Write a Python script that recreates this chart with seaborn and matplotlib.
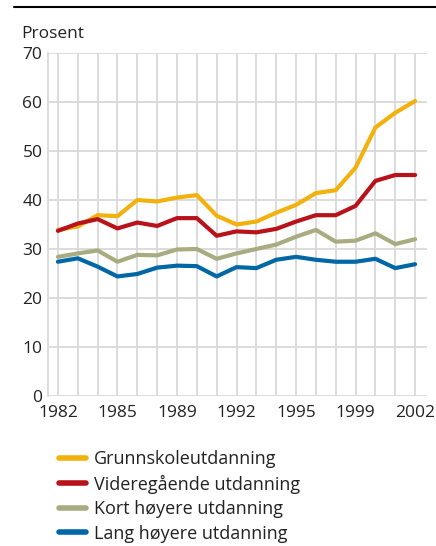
import matplotlib
matplotlib.use("Agg")
import pandas as pd
import matplotlib.pyplot as plt
from matplotlib.lines import Line2D
import seaborn as sns

# years with data (not every year is present, so plotted by position)
years = [1982, 1983, 1984, 1985, 1986, 1988, 1989, 1990, 1991, 1992,
         1993, 1994, 1995, 1996, 1997, 1999, 2000, 2001, 2002]
tick_years = ["1982", "1985", "1989", "1992", "1995", "1999", "2002"]

grunnskole = [33.9, 34.6, 36.9, 36.7, 40.0, 39.7, 40.5, 41.0, 36.8, 35.0,
              35.6, 37.4, 39.0, 41.4, 42.0, 46.6, 54.8, 57.8, 60.2]
videregaende = [33.7, 35.2, 36.1, 34.2, 35.4, 34.7, 36.3, 36.3, 32.7, 33.6,
                33.4, 34.1, 35.6, 36.9, 36.9, 38.8, 43.9, 45.1, 45.1]
kort_hoyere = [28.4, 29.1, 29.7, 27.4, 28.8, 28.7, 29.9, 30.0, 28.0, 29.1,
               30.0, 30.9, 32.5, 33.9, 31.5, 31.7, 33.2, 31.0, 32.0]
lang_hoyere = [27.4, 28.1, 26.4, 24.4, 24.9, 26.2, 26.6, 26.5, 24.4, 26.3,
               26.1, 27.8, 28.4, 27.8, 27.4, 27.4, 28.0, 26.1, 26.9]

series = {
    "Grunnskoleutdanning": grunnskole,
    "Videregående utdanning": videregaende,
    "Kort høyere utdanning": kort_hoyere,
    "Lang høyere utdanning": lang_hoyere,
}
colors = ["#F2B10D", "#B8121B", "#A9AB80", "#0067A5"]

rows = []
for name, vals in series.items():
    for i, v in enumerate(vals):
        rows.append({"pos": i, "year": years[i], "serie": name, "prosent": v})
df = pd.DataFrame(rows)

sns.set_style("white")
plt.rcParams["font.family"] = ["Open Sans", "DejaVu Sans"]
grid_col = "#d9d9d9"

fig = plt.figure(figsize=(4.36, 5.46), dpi=100)
ax = fig.add_axes([48 / 436, 150 / 546, 379 / 436, 343 / 546])

sns.lineplot(data=df, x="pos", y="prosent", hue="serie",
             hue_order=list(series.keys()), palette=colors,
             linewidth=3, ax=ax, solid_joinstyle="round")

ax.set_xlim(-0.5, 18.6)
ax.set_ylim(0, 70)
ax.set_yticks(range(0, 71, 10))
ax.set_xticks(range(len(years)), minor=False)
ax.set_xticklabels([str(y) if str(y) in tick_years else "" for y in years])
ax.tick_params(axis="both", length=0, labelsize=12.5, colors="#222222")
ax.tick_params(axis="y", pad=4)
ax.tick_params(axis="x", pad=6.5)
ax.grid(True, color=grid_col, linewidth=1.3)
ax.set_axisbelow(True)
for s in ["top", "right", "bottom"]:
    ax.spines[s].set_visible(False)
ax.spines["left"].set_color(grid_col)
ax.spines["left"].set_linewidth(1.3)
ax.set_xlabel("")
ax.set_ylabel("")

fig.text(21 / 436, 1 - 34 / 546, "Prosent", fontsize=12.5, color="#222222",
         ha="left", va="center")

# rule at the top of the figure
fig.add_artist(Line2D([14 / 436, 1.0], [1 - 7 / 546, 1 - 7 / 546],
                      color="black", linewidth=1.5))

sns.move_legend(ax, loc="upper left", bbox_to_anchor=(59 / 436, 96 / 546),
                bbox_transform=fig.transFigure, frameon=False, title=None,
                fontsize=13, handlelength=1.5, handletextpad=0.45,
                labelspacing=0.36, borderaxespad=0, borderpad=0)
for line in ax.get_legend().get_lines():
    line.set_linewidth(4)
    line.set_solid_capstyle("round")
for t in ax.get_legend().get_texts():
    t.set_color("#222222")

fig.savefig("out.png", dpi=100)
